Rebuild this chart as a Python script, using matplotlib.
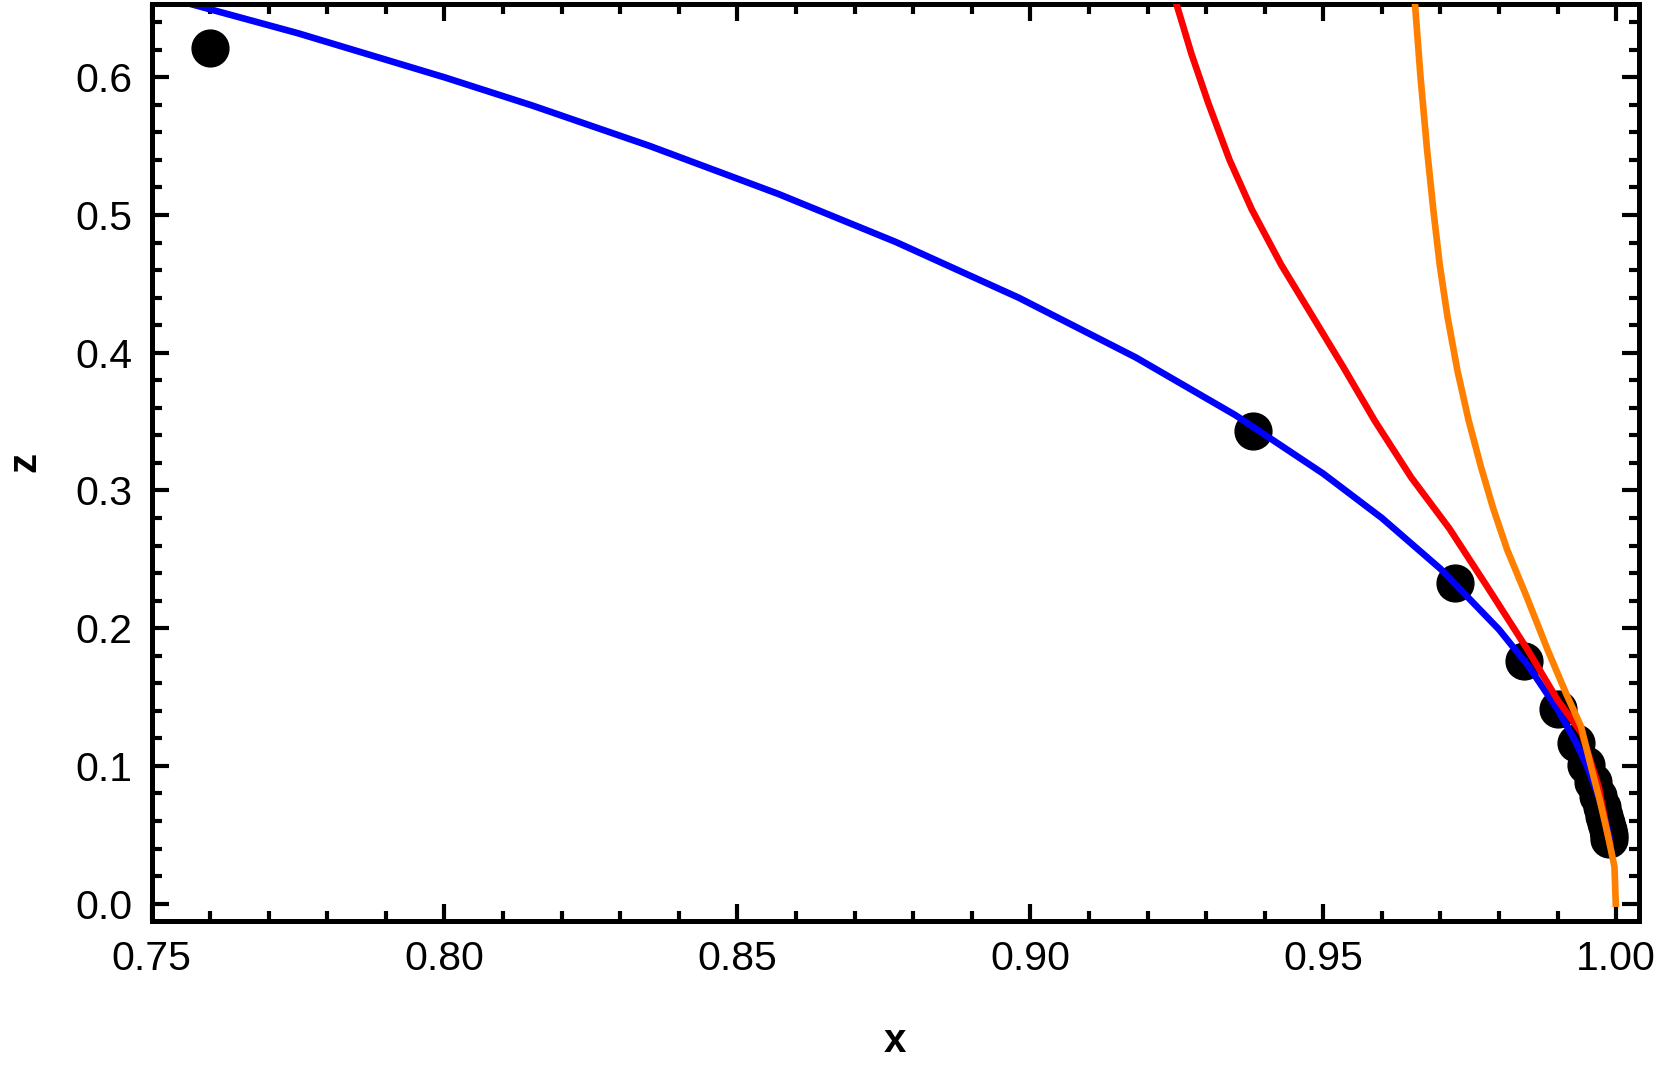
import matplotlib
matplotlib.use("Agg")
from matplotlib import pyplot as plt
from matplotlib.ticker import MultipleLocator, FormatStrFormatter

plt.rcParams['font.family'] = ['Liberation Sans', 'DejaVu Sans']

# black data points (x, z)
dots_x = [0.760, 0.938, 0.9725, 0.9843, 0.9900, 0.9931, 0.9949, 0.9960,
          0.99695, 0.99755, 0.99798, 0.9983, 0.99855, 0.99872, 0.99885]
dots_z = [0.621, 0.343, 0.233, 0.176, 0.141, 0.117, 0.101, 0.0885,
          0.078, 0.070, 0.0636, 0.0583, 0.0538, 0.050, 0.0472]

# blue curve
blue_x = [0.750, 0.775, 0.800, 0.815, 0.835, 0.857, 0.877, 0.898, 0.918,
          0.935, 0.950, 0.960, 0.970, 0.980, 0.985, 0.990, 0.993, 0.995,
          0.997, 0.998, 0.9988]
blue_z = [0.661, 0.632, 0.600, 0.5795, 0.5502, 0.5153, 0.4805, 0.440, 0.3966,
          0.3547, 0.3122, 0.280, 0.2431, 0.199, 0.1726, 0.141, 0.1181, 0.0999,
          0.0774, 0.0632, 0.049]

# red curve
red_x = [0.9246, 0.9275, 0.9304, 0.9340, 0.9378, 0.9428, 0.9481, 0.9535,
         0.9588, 0.9650, 0.9715, 0.9780, 0.9849, 0.9900, 0.9941, 0.9970,
         0.9985, 0.9989]
red_z = [0.658, 0.617, 0.581, 0.540, 0.504, 0.464, 0.4269, 0.389,
         0.3505, 0.3095, 0.2725, 0.2300, 0.1842, 0.1478, 0.1237, 0.085,
         0.0511, 0.044]

# orange curve
orange_x = [0.9656, 0.9666, 0.9677, 0.9688, 0.9699, 0.9712, 0.9729, 0.9748,
            0.9769, 0.9790, 0.9814, 0.9846, 0.9883, 0.9914, 0.9940, 0.9957,
            0.9972, 0.9985, 0.9993, 0.9997, 0.99992]
orange_z = [0.656, 0.600, 0.548, 0.503, 0.463, 0.4262, 0.387, 0.351,
            0.3173, 0.2870, 0.2568, 0.2240, 0.1842, 0.153, 0.1285, 0.0994,
            0.075, 0.0511, 0.035, 0.0268, 0.0]

W, H = 1661, 1067
fig = plt.figure(figsize=(W / 100, H / 100), dpi=100)
ax = fig.add_axes([151.5 / W, 1 - 921 / H, (1638.5 - 151.5) / W, (921 - 3.5) / H])

ax.plot(dots_x, dots_z, 'o', color='black', markersize=26.5, zorder=1)
ax.plot(blue_x, blue_z, color='#0000ff', lw=4.8, zorder=2)
ax.plot(red_x, red_z, color='#ff0000', lw=4.8, zorder=3)
ax.plot(orange_x, orange_z, color='#ff8000', lw=4.8, zorder=4)

ax.set_xlim(0.75, 1.0038)
ax.set_ylim(-0.0126, 0.6536)

ax.xaxis.set_major_locator(MultipleLocator(0.05))
ax.xaxis.set_minor_locator(MultipleLocator(0.01))
ax.yaxis.set_major_locator(MultipleLocator(0.1))
ax.yaxis.set_minor_locator(MultipleLocator(0.02))
ax.xaxis.set_major_formatter(FormatStrFormatter('%.2f'))
ax.yaxis.set_major_formatter(FormatStrFormatter('%.1f'))

for s in ax.spines.values():
    s.set_linewidth(3.6)
ax.tick_params(which='both', direction='in', top=True, right=True,
               width=3.0, labelsize=29.5)
ax.tick_params(which='major', length=12)
ax.tick_params(which='minor', length=7)
ax.tick_params(axis='x', which='major', pad=14)
ax.tick_params(axis='y', which='major', pad=13.5)

ax.set_xlabel('x', fontsize=29, fontweight='bold', labelpad=31.5)
ax.set_ylabel('z', fontsize=29, fontweight='bold', labelpad=23)

fig.savefig('out.png', dpi=100)
